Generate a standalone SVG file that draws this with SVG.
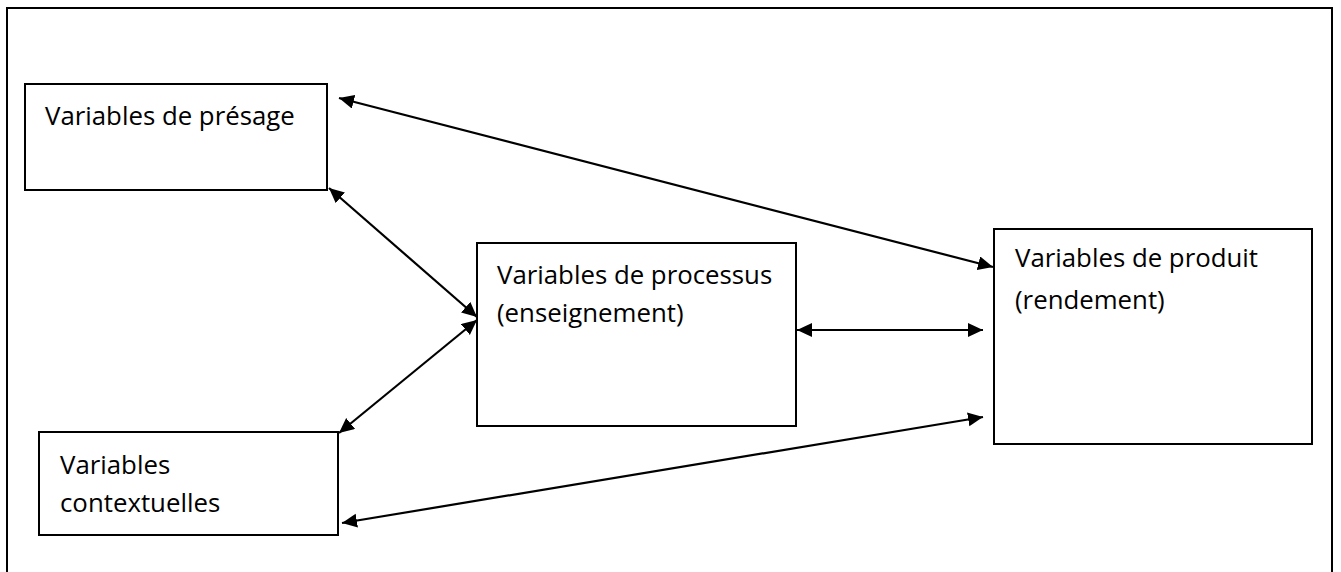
<svg xmlns="http://www.w3.org/2000/svg" width="1341" height="572" viewBox="0 0 1341 572">
  <defs>
    <marker id="ah" markerUnits="userSpaceOnUse" markerWidth="16" markerHeight="15" refX="15" refY="7" orient="auto-start-reverse" viewBox="0 0 16 15">
      <path d="M0,0 L15,7 L0,14 Z" fill="#000"/>
    </marker>
  </defs>
  <style>
    .box { fill: #fff; stroke: #000; stroke-width: 2; }
    .lbl { font-family: "Open Sans", "Noto Sans", sans-serif; font-size: 25.8px; fill: #000; }
    .conn { stroke: #000; stroke-width: 2.2; fill: none; marker-start: url(#ah); marker-end: url(#ah); }
  </style>
  <rect x="0" y="0" width="1341" height="572" fill="#fff"/>
  <rect x="7" y="8" width="1325" height="600" fill="none" stroke="#000" stroke-width="2"/>

  <g id="presage">
    <rect class="box" x="25" y="84" width="302" height="106"/>
    <text class="lbl" x="45" y="125">Variables de présage</text>
  </g>
  <g id="processus">
    <rect class="box" x="477" y="243" width="319" height="183"/>
    <text class="lbl" x="497" y="284">Variables de processus</text>
    <text class="lbl" x="497" y="322">(enseignement)</text>
  </g>
  <g id="produit">
    <rect class="box" x="994" y="229" width="318" height="215"/>
    <text class="lbl" x="1015" y="267">Variables de produit</text>
    <text class="lbl" x="1015" y="309">(rendement)</text>
  </g>
  <g id="contextuelles">
    <rect class="box" x="39" y="432" width="299" height="103"/>
    <text class="lbl" x="60" y="474">Variables</text>
    <text class="lbl" x="60" y="512">contextuelles</text>
  </g>

  <g id="connectors">
    <line class="conn" x1="339" y1="98" x2="993" y2="267"/>
    <line class="conn" x1="329" y1="188" x2="477" y2="317"/>
    <line class="conn" x1="339" y1="433" x2="477" y2="320"/>
    <line class="conn" x1="797" y1="330" x2="983" y2="330"/>
    <line class="conn" x1="342" y1="523" x2="983" y2="417"/>
  </g>
</svg>
